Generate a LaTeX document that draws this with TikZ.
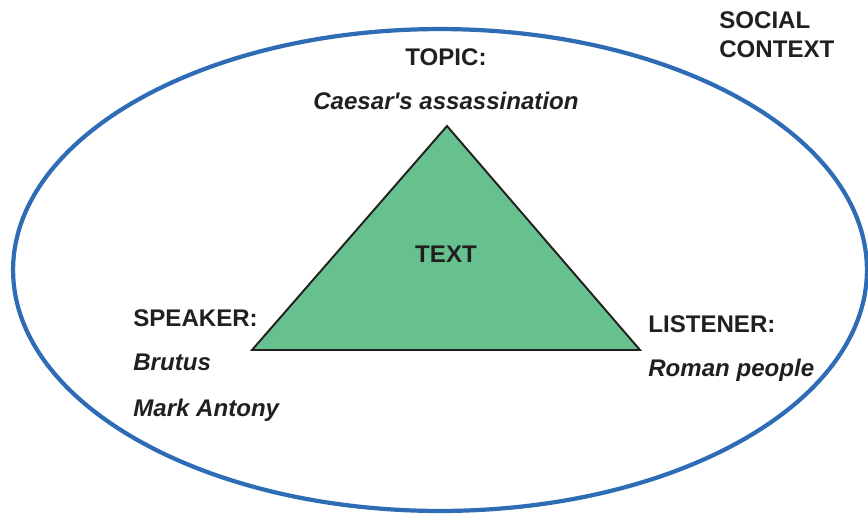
\documentclass[tikz,border=0pt]{standalone}
\usepackage{fontspec}
\setmainfont{Liberation Sans}[Ligatures=TeXOff]
\usetikzlibrary{positioning}

\definecolor{ringblue}{RGB}{46,108,182}
\definecolor{textgreen}{RGB}{102,193,142}
\definecolor{ink}{RGB}{35,31,32}

\tikzset{
  head/.style={font=\fontsize{13.7}{16}\selectfont\bfseries, text=ink, inner sep=0pt},
  who/.style={font=\fontsize{13.7}{16}\selectfont\bfseries\itshape, text=ink, inner sep=0pt},
}

\begin{document}
\begin{tikzpicture}
	[x=0.02cm, y=-0.02cm, node distance=0.88cm]
   \useasboundingbox (0,0) rectangle (868,515);
   % social context
   \draw[ringblue, line width=2.4pt] (440,270) ellipse [x radius=8.54cm, y radius=4.82cm];
   % the text triangle
   \coordinate (apex) at (447,126);
   \coordinate (lcorner) at (252,350);
   \coordinate (rcorner) at (640,350);
   \filldraw[fill=textgreen, draw=ink, line width=1.1pt, line join=miter]
     (apex) -- (lcorner) -- (rcorner) -- cycle;
   \node[head] (text) at (446,254) {TEXT};
   \node[head, anchor=west] (social) at (719,20) {SOCIAL};
   \node[head, anchor=west] (context) at (719,49) {CONTEXT};
   \node[head] (topic) at (446,57) {TOPIC:};
   \node[who] (caesar) [below=of topic.center, anchor=center] {Caesar's assassination};
   \node[head, anchor=west] (speaker) at (133,318) {SPEAKER:};
   \node[who] (brutus) [below=of speaker.west, anchor=west] {Brutus};
   \node[who] (antony) [below=0.96cm of brutus.west, anchor=west] {Mark Antony};
   \node[head, anchor=west] (listener) at (648,324) {LISTENER:};
   \node[who] (roman) [below=0.92cm of listener.west, anchor=west] {Roman people};
\end{tikzpicture}
\end{document}
